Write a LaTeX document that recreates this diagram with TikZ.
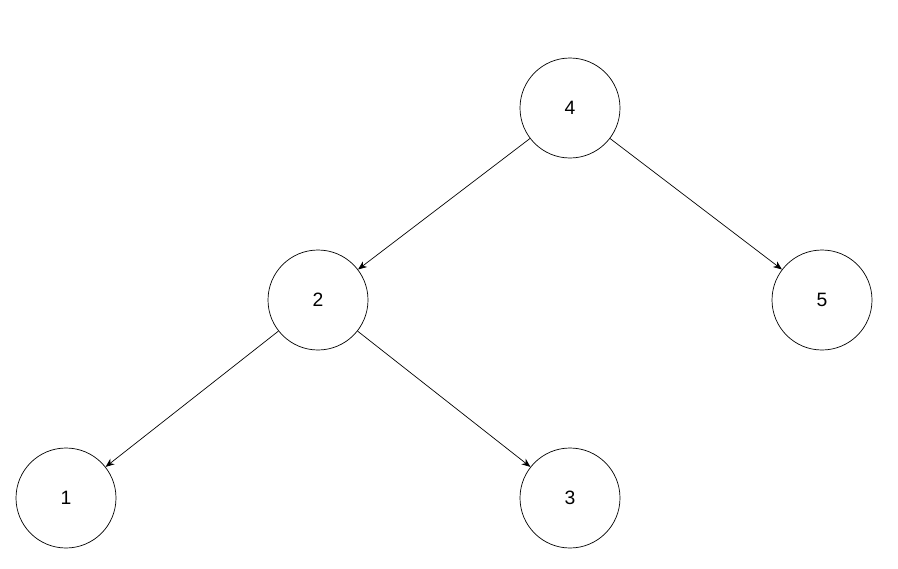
\documentclass[tikz,border=0pt]{standalone}
\usepackage{fontspec}
\setmainfont{Liberation Sans}
\usetikzlibrary{arrows.meta}
\begin{document}
\begin{tikzpicture}
    \tikzstyle{vertex}=[circle,draw,thin,minimum size=2cm,inner sep=0pt,font=\fontsize{11}{13}\selectfont]
    \tikzstyle{edge}=[draw,thin,-{Stealth[length=5pt,width=4pt]}]
    \useasboundingbox (0,0) rectangle (17.96,11.36);
    \node[vertex] (n4) at (11.4,9.2)  {4};
    \node[vertex] (n2) at (6.36,5.36) {2};
    \node[vertex] (n5) at (16.44,5.36) {5};
    \node[vertex] (n1) at (1.32,1.4)  {1};
    \node[vertex] (n3) at (11.4,1.4)  {3};

    \path[edge] (n4) -- (n2);
    \path[edge] (n4) -- (n5);
    \path[edge] (n2) -- (n1);
    \path[edge] (n2) -- (n3);

\end{tikzpicture}
\end{document}
